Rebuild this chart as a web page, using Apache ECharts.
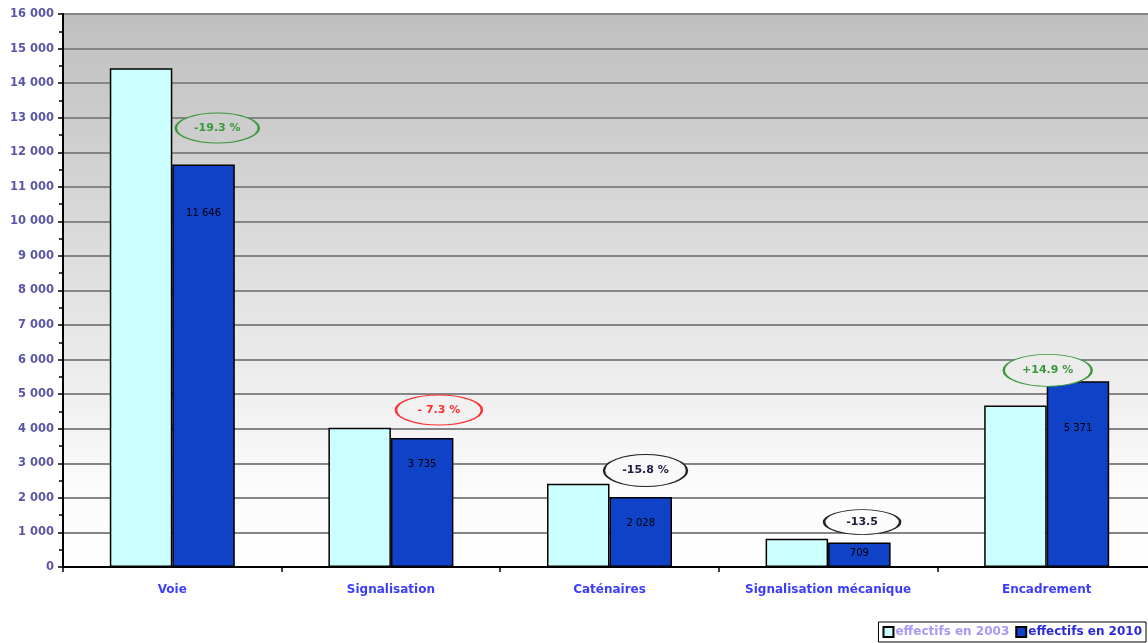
<!DOCTYPE html>
<html>
<head>
<meta charset="utf-8">
<script src="https://cdn.jsdelivr.net/npm/echarts@6/dist/echarts.min.js"></script>
<style>html,body{margin:0;padding:0;background:#fff}#c{width:1148px;height:643px}</style>
</head>
<body>
<div id="c"></div>
<script>
var categories = ['Voie', 'Signalisation', 'Caténaires', 'Signalisation mécanique', 'Encadrement'];
var effectifs2003 = [14430, 4029, 2409, 820, 4675];
var effectifs2010 = [11646, 3735, 2028, 709, 5371];
var changeLabels = ['-19.3 %', '- 7.3 %', '-15.8 %', '-13.5', '+14.9 %'];
var changeAnchors = [12700, 4543, 2790, 1300, 5690];
var seriesNames = ['effectifs en 2003', 'effectifs en 2010'];

// styling (not data)
var ellipseColors = ['#3a9a3a', '#ff3030', '#222222', '#222222', '#3a9a3a'];
var ellipseTextColors = ['#3a9a3a', '#ff3030', '#1c1c40', '#1c1c40', '#3a9a3a'];
var ellipseFills = ['#cdcdcd', '#f1f1f1', '#f9f9f9', '#fcfcfc', '#ececec'];
var ellipseSizes = [[83, 30], [86, 30], [83, 32], [76, 25], [88, 32]];
var ellipseOffsets = [[45, 0], [48, 0], [36, 0], [34, 0], [1, 0]];
var labelDistances = [44, 21, 21, 6, 42];
var FONT = 'DejaVu Sans, Verdana, sans-serif';
var bgStops = [{offset: 0, color: '#bfbfbf'}, {offset: 0.45, color: '#dedede'}, {offset: 0.85, color: '#fbfbfb'}, {offset: 1, color: '#ffffff'}];

function fmt(v) { return String(v).replace(/\B(?=(\d{3})+(?!\d))/g, ' '); }

var chart = echarts.init(document.getElementById('c'), null, {renderer: 'canvas'});
chart.setOption({
  animation: false,
  backgroundColor: '#ffffff',
  grid: {
    left: 63, width: 1093, top: 14, bottom: 76,
    outerBoundsMode: 'none', containLabel: false,
    show: true, borderWidth: 0,
    backgroundColor: {type: 'linear', x: 0, y: 0, x2: 0, y2: 1, colorStops: bgStops}
  },
  legend: {
    right: 2, bottom: 1,
    orient: 'horizontal',
    icon: 'rect',
    borderColor: '#000', borderWidth: 1, borderRadius: 0,
    padding: [4, 4], itemGap: 6, itemWidth: 10, itemHeight: 10,
    textStyle: {fontFamily: FONT, fontWeight: 'bold', fontSize: 12, padding: [0, 0, 0, -3]},
    data: [
      {name: seriesNames[0], textStyle: {color: '#a898f8'}},
      {name: seriesNames[1], textStyle: {color: '#2a2ad8'}}
    ]
  },
  xAxis: {
    type: 'category',
    data: categories,
    axisLine: {lineStyle: {color: '#000', width: 2}},
    axisTick: {show: true, length: 5, lineStyle: {color: '#000', width: 1.5}},
    axisLabel: {color: '#3c3cff', fontFamily: FONT, fontWeight: 'bold', fontSize: 12, margin: 17,
      textShadowColor: 'rgba(150,120,200,0.5)', textShadowOffsetX: 1, textShadowOffsetY: 1},
    splitLine: {show: false}
  },
  yAxis: {
    type: 'value',
    min: 0, max: 16000, interval: 1000,
    axisLine: {show: true, lineStyle: {color: '#000', width: 2}},
    axisTick: {show: true, length: 5, lineStyle: {color: '#000', width: 1.5}},
    minorTick: {show: true, splitNumber: 2, length: 4, lineStyle: {color: '#000', width: 1.5}},
    axisLabel: {color: '#5a55a5', fontFamily: FONT, fontWeight: 'bold', fontSize: 11.5, margin: 9,
      formatter: function (v) { return fmt(v); },
      textShadowColor: 'rgba(200,150,180,0.6)', textShadowOffsetX: 1, textShadowOffsetY: 1},
    splitLine: {show: true, lineStyle: {color: '#858585', width: 2}}
  },
  series: [
    {
      name: seriesNames[0], type: 'bar', data: effectifs2003,
      barWidth: 62.5, barGap: '0%',
      itemStyle: {color: '#ccffff', borderColor: '#000', borderWidth: 1.5}
    },
    {
      name: seriesNames[1], type: 'bar',
      data: effectifs2010.map(function (v, i) {
        return {value: v, label: {distance: labelDistances[i]}};
      }),
      barWidth: 62.5, barGap: '0%',
      itemStyle: {color: '#1042c8', borderColor: '#000', borderWidth: 1.5},
      label: {show: true, position: 'insideTop', color: '#000', fontFamily: FONT, fontSize: 10,
        formatter: function (p) { return fmt(p.value); }}
    },
    {
      name: 'variation', type: 'scatter', z: 5,
      data: changeAnchors.map(function (v, i) {
        return {
          value: [i, v],
          symbolSize: ellipseSizes[i],
          symbolOffset: ellipseOffsets[i],
          itemStyle: {color: ellipseFills[i], borderColor: ellipseColors[i], borderWidth: 1.5, opacity: 1},
          label: {color: ellipseTextColors[i]}
        };
      }),
      symbol: 'circle',
      label: {show: true, position: 'inside', fontFamily: FONT, fontWeight: 'bold', fontSize: 11,
        formatter: function (p) { return changeLabels[p.dataIndex]; }},
      emphasis: {disabled: true},
      silent: true
    }
  ]
});
</script>
</body>
</html>
